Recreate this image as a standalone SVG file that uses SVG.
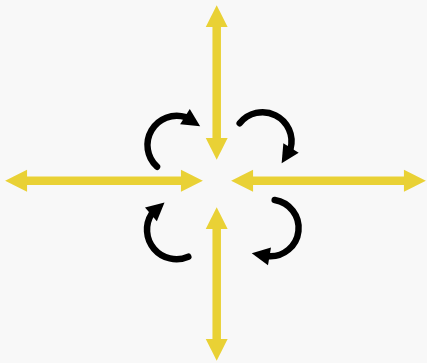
<svg xmlns="http://www.w3.org/2000/svg" width="427" height="363" viewBox="0 0 427 363">
  <style>
    .ya { stroke: #E9D135; stroke-width: 8.5; fill: none; marker-start: url(#yhead); marker-end: url(#yhead); }
    .rot { stroke: #000; stroke-width: 6.5; fill: none; stroke-linecap: round; }
    .rh { fill: #000; }
  </style>
  <defs>
    <marker id="yhead" markerUnits="userSpaceOnUse" markerWidth="24" markerHeight="24" viewBox="-1 -11 23 22" refX="0" refY="0" orient="auto-start-reverse" overflow="visible">
      <path d="M-1,-10.5 L20,0 L-1,10.5 Z" fill="#E9D135"/>
    </marker>
    <path id="rhead" d="M-1,-9 L17,0 L-1,9 Z"/>
  </defs>
  <rect width="427" height="363" fill="#f8f8f8"/>
  <g id="connectors">
    <g id="axis-left"><line class="ya" x1="26" y1="180.7" x2="182" y2="180.7"/></g>
    <g id="axis-right"><line class="ya" x1="252" y1="180.7" x2="405" y2="180.7"/></g>
    <g id="axis-top"><line class="ya" x1="216.7" y1="26" x2="216.7" y2="139"/></g>
    <g id="axis-bottom"><line class="ya" x1="216.7" y1="228" x2="216.7" y2="340"/></g>
    <g id="rot-tl">
      <path class="rot" d="M157,166.7 A29.3,29.3 0 0 1 185.8,117.2"/>
      <use href="#rhead" class="rh" transform="translate(185.8,117.2) rotate(32.5)"/>
    </g>
    <g id="rot-tr">
      <path class="rot" d="M239.7,123.3 A29,29 0 0 1 290.5,148.8"/>
      <use href="#rhead" class="rh" transform="translate(290.5,148.8) rotate(121.4)"/>
    </g>
    <g id="rot-br">
      <path class="rot" d="M274.7,200 A28.3,28.3 0 0 1 268.5,256.2"/>
      <use href="#rhead" class="rh" transform="translate(268.5,256.2) rotate(189.6)"/>
    </g>
    <g id="rot-bl">
      <path class="rot" d="M188.3,256.7 A29.5,29.5 0 0 1 151.7,213.7"/>
      <use href="#rhead" class="rh" transform="translate(151.7,213.7) rotate(-41.1)"/>
    </g>
  </g>
</svg>
